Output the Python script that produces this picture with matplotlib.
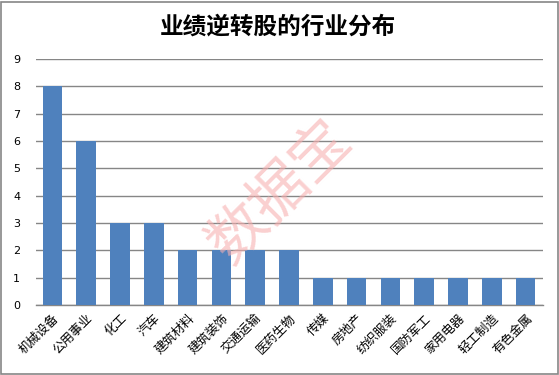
import matplotlib
matplotlib.use("Agg")
import matplotlib.pyplot as plt
from matplotlib.patches import Rectangle

plt.rcParams['font.family'] = ['Noto Sans CJK SC', 'DejaVu Sans']

categories = ["机械设备", "公用事业", "化工", "汽车", "建筑材料", "建筑装饰", "交通运输",
              "医药生物", "传媒", "房地产", "纺织服装", "国防军工", "家用电器", "轻工制造", "有色金属"]
values = [8, 6, 3, 3, 2, 2, 2, 2, 1, 1, 1, 1, 1, 1, 1]
yticks = list(range(0, 10))
title = "业绩逆转股的行业分布"
watermark = "数据宝"

W, H = 559, 375
fig = plt.figure(figsize=(W / 100, H / 100), dpi=100)
ax = fig.add_axes([35.5 / W, (H - 305) / H, (542.5 - 35.5) / W, (305 - 59) / H])

x = range(len(categories))
ax.bar(x, values, width=0.58, color="#4F81BD", zorder=3)
ax.set_xlim(-0.5, len(categories) - 0.5)
ax.set_ylim(0, 9)
ax.set_yticks(yticks)
ax.set_yticklabels([str(t) for t in yticks], fontsize=8, family=['DejaVu Sans'])
ax.set_xticks(list(x))
ax.set_xticklabels(categories, rotation=45, ha="right", va="top", fontsize=9,
                   rotation_mode="anchor")
ax.tick_params(axis="both", length=0, pad=11)
ax.tick_params(axis="x", pad=5)
ax.grid(axis="y", color="#868686", linewidth=1, zorder=0)
for s in ["top", "right", "left"]:
    ax.spines[s].set_visible(False)
ax.spines["bottom"].set_color("#868686")
ax.spines["bottom"].set_linewidth(1)

fig.text(278 / W, 1 - 27 / H, title, ha="center", va="center", fontsize=17, fontweight="bold")
fig.text(280 / W, 1 - 192 / H, watermark, ha="center", va="center", fontsize=42,
         rotation=45, color="#F7B0B0", alpha=0.6, zorder=10)

fig.patches.append(Rectangle((1.5 / W, 1.5 / H), (W - 3) / W, (H - 3) / H,
                             transform=fig.transFigure, fill=False,
                             edgecolor="#868686", linewidth=1.2))

fig.savefig("out.png", dpi=100)
